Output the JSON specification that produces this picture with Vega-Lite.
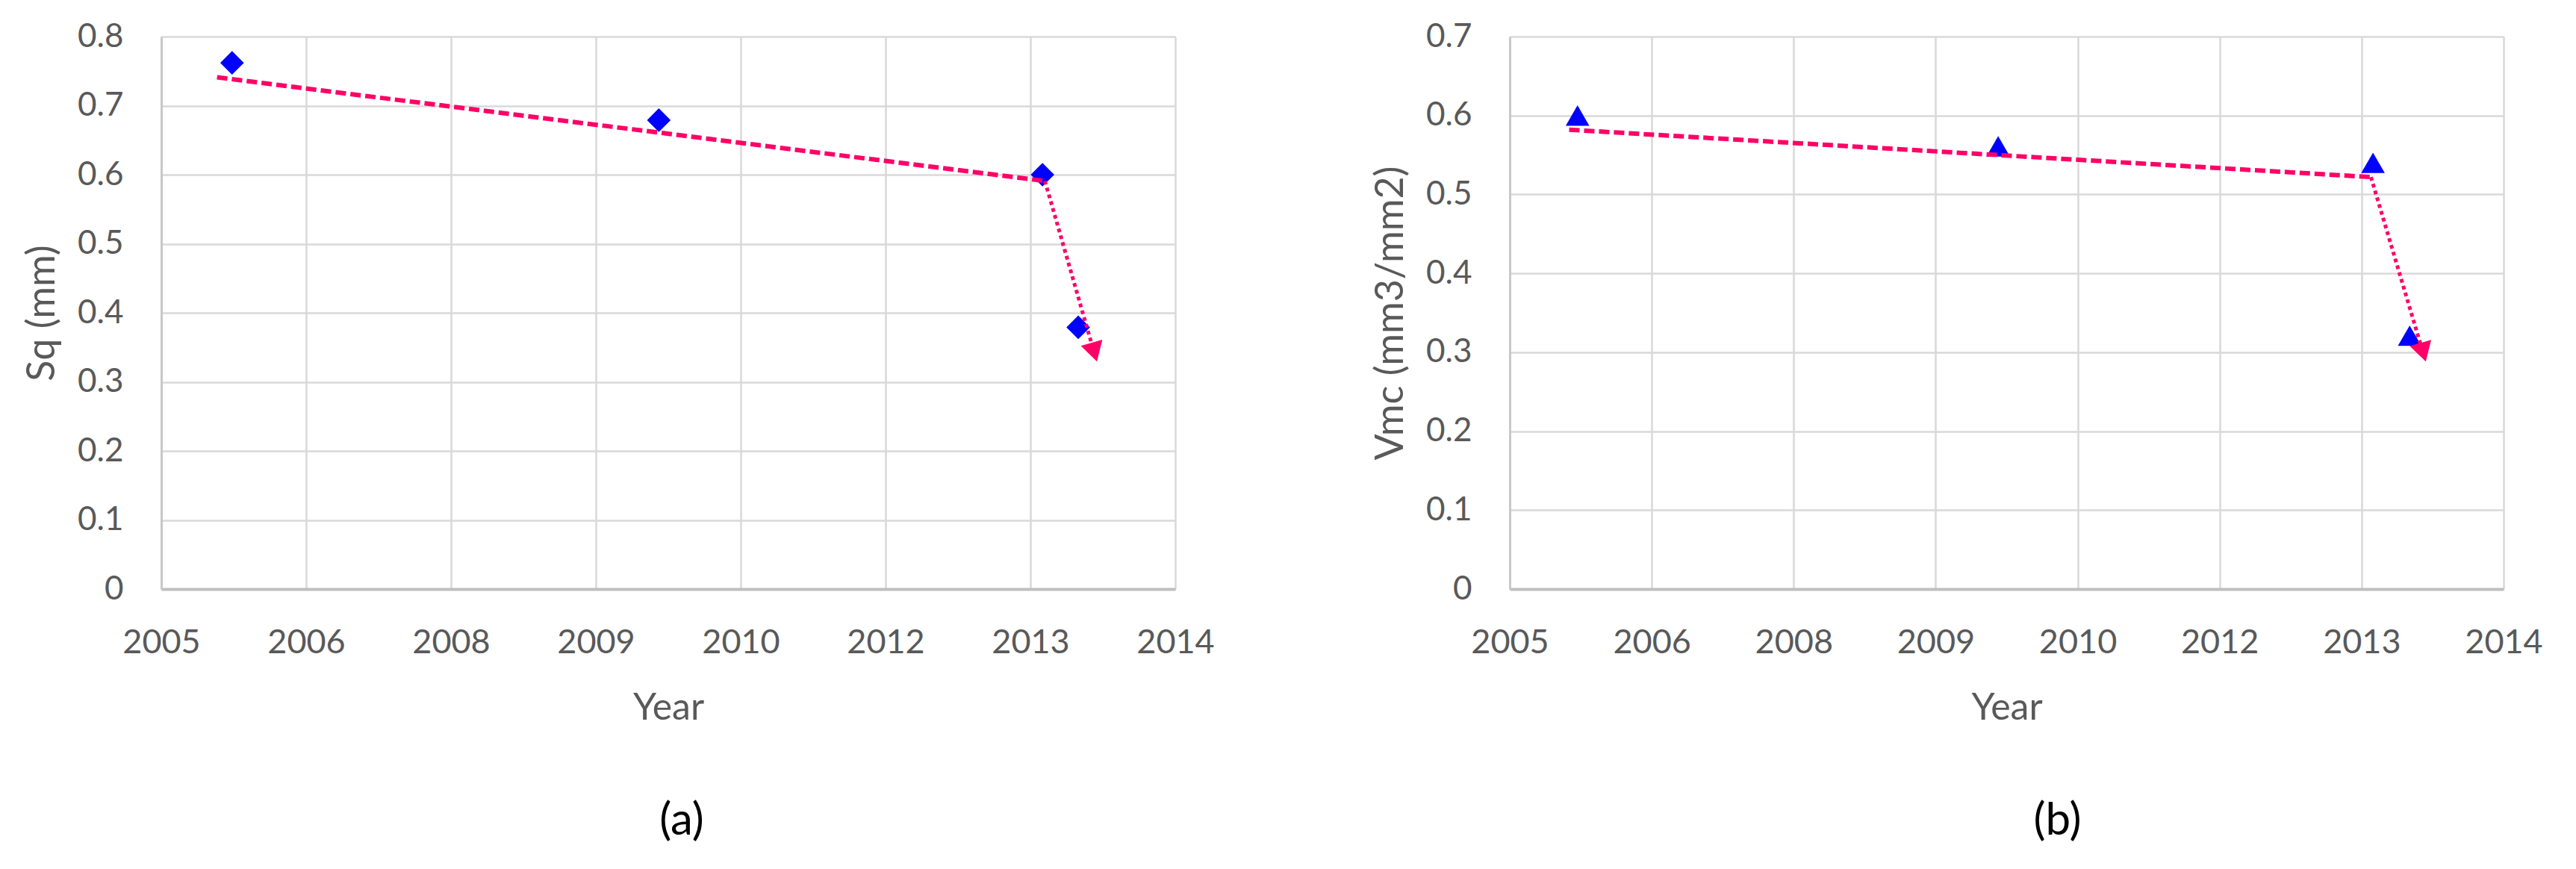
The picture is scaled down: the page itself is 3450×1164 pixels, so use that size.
{
  "$schema": "https://vega.github.io/schema/vega-lite/v6.json",
  "padding": {"left": 30, "top": 27, "right": 10, "bottom": 10},
  "spacing": 209,
  "background": "#FFFFFF",
  "config": {
    "view": {"stroke": null},
    "font": "Lato",
    "axisX": {
      "labelFlush": false,
      "labelOverlap": false,
      "ticks": false,
      "tickSize": 0,
      "labelPadding": 49,
      "labelFontSize": 45,
      "labelColor": "#595959",
      "titleFontSize": 50,
      "titleColor": "#595959",
      "titleFontWeight": "normal",
      "titlePadding": 40,
      "grid": true,
      "gridColor": "#D9D9D9",
      "gridWidth": 2.5,
      "domainColor": "#BFBFBF",
      "domainWidth": 4
    },
    "axisY": {
      "format": ".1~f",
      "ticks": false,
      "tickSize": 0,
      "labelPadding": 51,
      "labelFontSize": 44,
      "labelColor": "#595959",
      "titleFontSize": 52,
      "titleColor": "#595959",
      "titleFontWeight": "normal",
      "titlePadding": 20,
      "grid": true,
      "gridColor": "#D9D9D9",
      "gridWidth": 2.5,
      "domainColor": "#C8C8C8",
      "domainWidth": 3
    }
  },
  "hconcat": [
    {
      "width": 1358,
      "height": 740,
      "title": {"text": "(a)", "orient": "bottom", "anchor": "middle", "frame": "group", "dx": 18, "offset": 98, "fontSize": 60, "font": "Lato", "fontWeight": "normal", "color": "#000000", "baseline": "top"},
      "encoding": {
        "x": {"field": "year", "type": "quantitative", "title": "Year", "scale": {"domain": [2005.5, 2014.74], "nice": false, "zero": false}, "axis": {"values": [2005.5, 2006.82, 2008.14, 2009.46, 2010.78, 2012.1, 2013.42, 2014.74], "labelExpr": "floor(datum.value + 0.001)"}},
        "y": {"field": "value", "type": "quantitative", "title": "Sq (mm)", "scale": {"domain": [0, 0.8], "nice": false}, "axis": {"values": [0, 0.1, 0.2, 0.3, 0.4, 0.5, 0.6, 0.7, 0.8]}}
      },
      "layer": [
        {
          "data": {"values": [
            {"year": 2006.145, "value": 0.762},
            {"year": 2010.034, "value": 0.679},
            {"year": 2013.53, "value": 0.600},
            {"year": 2013.856, "value": 0.379}
          ]},
          "mark": {"type": "point", "shape": "diamond", "filled": true, "size": 1000, "color": "#0000FF", "opacity": 1}
        },
        {
          "data": {"values": [
            {"year": 2006.008, "value": 0.741},
            {"year": 2013.552, "value": 0.591}
          ]},
          "mark": {"type": "line", "color": "#FF0066", "strokeWidth": 6, "strokeDash": [14, 6]}
        },
        {
          "data": {"values": [
            {"year": 2013.552, "value": 0.591},
            {"year": 2014.0, "value": 0.343}
          ]},
          "mark": {"type": "line", "color": "#FF0066", "strokeWidth": 5, "strokeDash": [5, 4.5]}
        },
        {
          "data": {"values": [
            {"year": 2014.002, "value": 0.343}
          ]},
          "mark": {"type": "point", "shape": "triangle-down", "filled": true, "size": 900, "angle": -16, "color": "#FF0066", "opacity": 1}
        }
      ]
    },
    {
      "width": 1331,
      "height": 740,
      "title": {"text": "(b)", "orient": "bottom", "anchor": "middle", "frame": "group", "dx": 68, "offset": 98, "fontSize": 60, "font": "Lato", "fontWeight": "normal", "color": "#000000", "baseline": "top"},
      "encoding": {
        "x": {"field": "year", "type": "quantitative", "title": "Year", "scale": {"domain": [2005.5, 2014.74], "nice": false, "zero": false}, "axis": {"values": [2005.5, 2006.82, 2008.14, 2009.46, 2010.78, 2012.1, 2013.42, 2014.74], "labelExpr": "floor(datum.value + 0.001)"}},
        "y": {"field": "value", "type": "quantitative", "title": "Vmc (mm3/mm2)", "scale": {"domain": [0, 0.7], "nice": false}, "axis": {"values": [0, 0.1, 0.2, 0.3, 0.4, 0.5, 0.6, 0.7]}}
      },
      "layer": [
        {
          "data": {"values": [
            {"year": 2006.13, "value": 0.600},
            {"year": 2010.041, "value": 0.561},
            {"year": 2013.526, "value": 0.540},
            {"year": 2013.867, "value": 0.321}
          ]},
          "mark": {"type": "point", "shape": "triangle-up", "filled": true, "size": 1000, "color": "#0000FF", "opacity": 1}
        },
        {
          "data": {"values": [
            {"year": 2006.052, "value": 0.582},
            {"year": 2013.507, "value": 0.522}
          ]},
          "mark": {"type": "line", "color": "#FF0066", "strokeWidth": 6, "strokeDash": [14, 6]}
        },
        {
          "data": {"values": [
            {"year": 2013.507, "value": 0.522},
            {"year": 2013.99, "value": 0.300}
          ]},
          "mark": {"type": "line", "color": "#FF0066", "strokeWidth": 5, "strokeDash": [5, 4.5]}
        },
        {
          "data": {"values": [
            {"year": 2013.992, "value": 0.300}
          ]},
          "mark": {"type": "point", "shape": "triangle-down", "filled": true, "size": 900, "angle": -16, "color": "#FF0066", "opacity": 1}
        }
      ]
    }
  ]
}
